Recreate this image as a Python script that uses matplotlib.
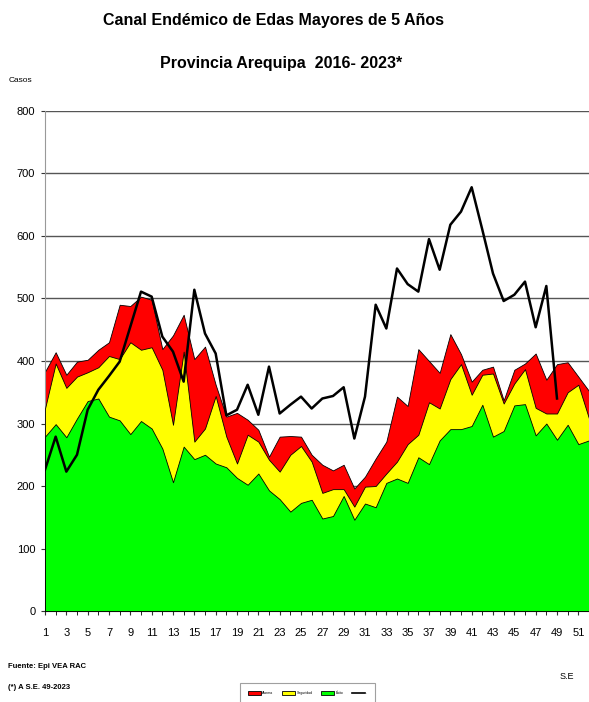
import matplotlib
matplotlib.use('Agg')
import matplotlib.pyplot as plt
from matplotlib.patches import Patch
from matplotlib.lines import Line2D
import numpy as np

plt.rcParams['font.family'] = ['Liberation Sans', 'DejaVu Sans']

# semanas epidemiologicas 1..52
semanas = list(range(1, 53))

# canal endemico (percentiles)
alarma = [383, 414, 378, 399, 402, 418, 430, 490, 488, 503, 498, 419, 441, 474, 403, 423,
          362, 311, 317, 306, 290, 247, 279, 280, 279, 250, 234, 225, 234, 196, 215, 244,
          271, 343, 328, 419, 400, 381, 443, 411, 367, 386, 391, 337, 386, 396, 412, 370,
          395, 398, 375, 352]
seguridad = [324, 396, 357, 375, 382, 390, 408, 403, 430, 418, 422, 386, 298, 415, 271, 292,
             344, 279, 236, 282, 271, 242, 223, 250, 264, 239, 189, 195, 195, 167, 199, 200,
             220, 239, 267, 282, 334, 324, 371, 395, 346, 378, 380, 332, 364, 387, 325, 316,
             316, 350, 362, 308]
exito = [279, 299, 278, 308, 336, 340, 311, 305, 283, 304, 292, 260, 206, 263, 243, 250,
         236, 230, 213, 202, 220, 193, 179, 159, 173, 178, 148, 152, 184, 146, 172, 166,
         205, 212, 205, 246, 235, 273, 291, 291, 296, 330, 279, 288, 329, 331, 281, 300,
         274, 298, 267, 273]

# casos 2023 hasta la S.E. 49
casos_2023 = [226, 279, 223, 250, 322, 354, 376, 399, 455, 511, 503, 439, 415, 367, 514, 444,
              412, 313, 322, 362, 314, 391, 316, 330, 343, 324, 340, 344, 358, 276, 343, 490,
              452, 548, 523, 511, 595, 546, 618, 639, 678, 610, 540, 496, 506, 527, 454, 520,
              340]

x = np.array(semanas)
x23 = np.arange(1, len(casos_2023) + 1)

fig = plt.figure(figsize=(5.89, 7.02), dpi=100)
ax = fig.add_axes([0.0764, 0.1296, 0.9236, 0.7123])

ax.fill_between(x, 0, alarma, facecolor='#ff0000', edgecolor='black', linewidth=0.6, zorder=2)
ax.fill_between(x, 0, seguridad, facecolor='#ffff00', edgecolor='black', linewidth=0.6, zorder=3)
ax.fill_between(x, 0, exito, facecolor='#00ff00', edgecolor='black', linewidth=0.6, zorder=4)
ax.plot(x23, casos_2023, color='black', linewidth=1.8, zorder=5)

ax.set_xlim(1, 51.65)
ax.set_ylim(0, 800)
ax.set_yticks(range(0, 801, 100))
ax.set_xticks(semanas, minor=True)
ax.set_xticks(range(1, 52, 2))
ax.yaxis.grid(True, color='#555555', linewidth=1.0)
ax.set_axisbelow(True)
ax.tick_params(axis='both', labelsize=8, length=3, color='#333333')
ax.tick_params(axis='x', which='minor', length=3)
ax.tick_params(axis='x', pad=9)
ax.tick_params(axis='y', pad=4)
for s in ['top', 'right']:
    ax.spines[s].set_visible(False)
ax.spines['left'].set_color('#999999')
ax.spines['bottom'].set_color('black')

fig.text(0.465, 0.971, 'Canal Endémico de Edas Mayores de 5 Años', ha='center', va='center',
         fontsize=11.5, fontweight='bold')
fig.text(0.478, 0.910, 'Provincia Arequipa  2016- 2023*', ha='center', va='center',
         fontsize=11.5, fontweight='bold')
fig.text(0.014, 0.886, 'Casos', fontsize=6, va='center')

fig.text(0.014, 0.050, 'Fuente: Epi VEA RAC', fontsize=5.5, fontweight='bold', va='center')
fig.text(0.014, 0.020, '(*) A S.E. 49-2023', fontsize=5.5, fontweight='bold', va='center')
fig.text(0.950, 0.037, 'S.E', fontsize=6.5, va='center')

handles = [Patch(facecolor='#ff0000', edgecolor='black', linewidth=0.6),
           Patch(facecolor='#ffff00', edgecolor='black', linewidth=0.6),
           Patch(facecolor='#00ff00', edgecolor='black', linewidth=0.6),
           Line2D([0], [0], color='black', linewidth=1.2)]
leg = fig.legend(handles, ['Alarma', 'Seguridad', 'Éxito', '.'], ncol=4, fontsize=2.5,
                 loc='center', bbox_to_anchor=(0.522, 0.0128), frameon=True,
                 fancybox=False, handlelength=3.8, handleheight=1.2, columnspacing=2.5,
                 handletextpad=0.3, borderpad=2.4)
leg.get_frame().set_edgecolor('#888888')
leg.get_frame().set_linewidth(0.8)

fig.savefig('out.png', dpi=100)
